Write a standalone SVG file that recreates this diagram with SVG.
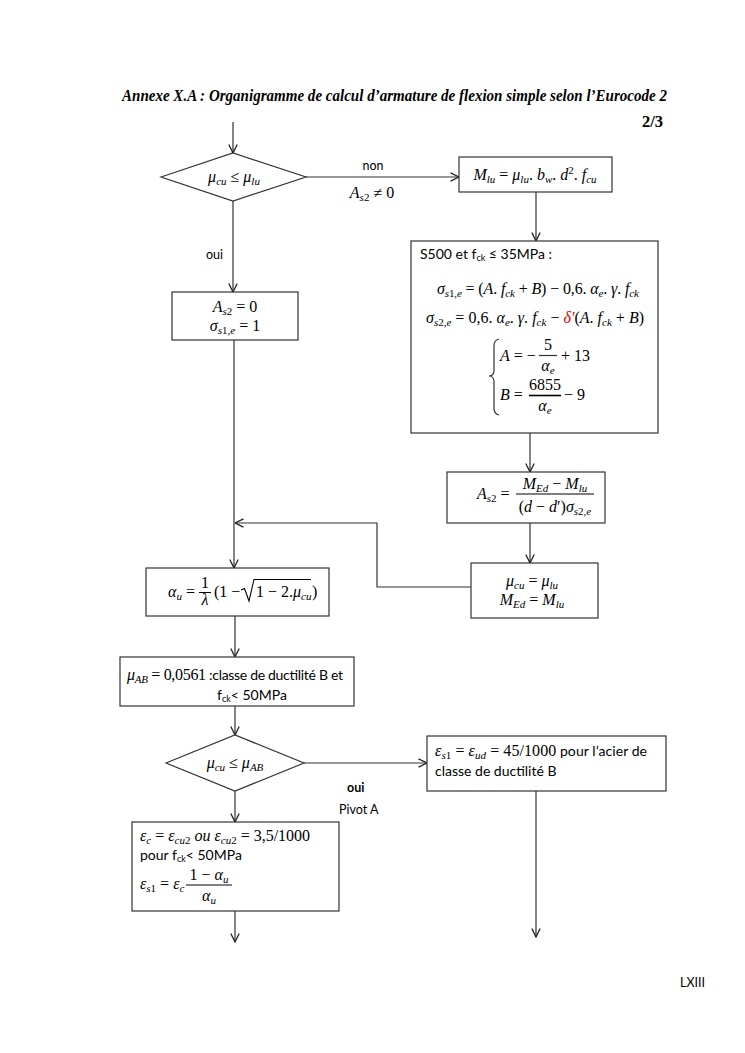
<svg xmlns="http://www.w3.org/2000/svg" width="745" height="1053" viewBox="0 0 745 1053">
<style>
.bx{fill:#fff;stroke:#333;stroke-width:1.2}
.ln{fill:none;stroke:#333;stroke-width:1.2}
.m{font-family:"Liberation Serif","DejaVu Serif",serif;font-size:16px;fill:#000}
.i{font-style:italic}
.s{font-size:11px;font-style:italic}
.n{font-size:11px}
.t{font-family:Lato,"Liberation Sans",sans-serif;font-size:12.5px;fill:#000}
.tb{font-family:Lato,"Liberation Sans",sans-serif;font-size:14px;fill:#000}
.ts{font-size:9px}
.ttl{font-family:"Liberation Serif","Times New Roman",serif;font-weight:bold;font-style:italic;font-size:16.5px}
</style>
<defs>
<marker id="ah" viewBox="0 0 10 10" refX="9.5" refY="5" markerWidth="10" markerHeight="10" markerUnits="userSpaceOnUse" orient="auto">
<path d="M1,0.8 L9.5,5 L1,9.2" fill="none" stroke="#222" stroke-width="1.3"/>
</marker>
</defs>
<rect width="745" height="1053" fill="#fff"/>
<text class="ttl" x="122" y="101" textLength="545" lengthAdjust="spacingAndGlyphs">Annexe X.A : Organigramme de calcul d’armature de flexion simple selon l’Eurocode 2</text>
<text class="ttl" x="663" y="127" text-anchor="end" style="font-style:normal">2/3</text>

<g id="connectors">
<path class="ln" d="M233,122 V153" marker-end="url(#ah)"/>
<path class="ln" d="M306,177 H459" marker-end="url(#ah)"/>
<path class="ln" d="M233,201 V292" marker-end="url(#ah)"/>
<path class="ln" d="M536,192 V241" marker-end="url(#ah)"/>
<path class="ln" d="M530,433 V472" marker-end="url(#ah)"/>
<path class="ln" d="M530,523 V563" marker-end="url(#ah)"/>
<path class="ln" d="M471,587 H377 V523 H235" marker-end="url(#ah)"/>
<path class="ln" d="M234,340 V568" marker-end="url(#ah)"/>
<path class="ln" d="M235,616 V657" marker-end="url(#ah)"/>
<path class="ln" d="M235,706 V735" marker-end="url(#ah)"/>
<path class="ln" d="M304,763 H427" marker-end="url(#ah)"/>
<path class="ln" d="M235,791 V822" marker-end="url(#ah)"/>
<path class="ln" d="M235,911 V942" marker-end="url(#ah)"/>
<path class="ln" d="M536,791 V937" marker-end="url(#ah)"/>
<text class="t" x="373" y="170" text-anchor="middle">non</text>
<text class="m" x="372" y="198" text-anchor="middle"><tspan class="i">A</tspan><tspan class="s" baseline-shift="-3">s</tspan><tspan class="n" baseline-shift="-3">2</tspan> ≠ 0</text>
<text class="t" x="206" y="259">oui</text>
<text class="t" x="347" y="792" font-weight="bold">oui</text>
<text class="t" x="339" y="814">Pivot A</text>
</g>

<g id="d1">
<polygon class="bx" points="161,177 233,153 306,177 233,201"/>
<text class="m" x="234" y="182" text-anchor="middle"><tspan class="i">μ</tspan><tspan class="s" baseline-shift="-3">cu</tspan> ≤ <tspan class="i">μ</tspan><tspan class="s" baseline-shift="-3">lu</tspan></text>
</g>

<g id="mlu">
<rect class="bx" x="459" y="157" width="153" height="35"/>
<text class="m" x="535" y="180" text-anchor="middle"><tspan class="i">M</tspan><tspan class="s" baseline-shift="-3">lu</tspan> = <tspan class="i">μ</tspan><tspan class="s" baseline-shift="-3">lu</tspan>. <tspan class="i">b</tspan><tspan class="s" baseline-shift="-3">w</tspan>. <tspan class="i">d</tspan><tspan class="n" baseline-shift="6">2</tspan>. <tspan class="i">f</tspan><tspan class="s" baseline-shift="-3">cu</tspan></text>
</g>

<g id="s500">
<rect class="bx" x="411" y="241" width="247" height="192"/>
<text class="tb" x="420" y="259">S500 et f<tspan class="ts" baseline-shift="-2">ck</tspan> ≤ 35MPa :</text>
<text class="m" x="538" y="294" text-anchor="middle" textLength="202"><tspan class="i">σ</tspan><tspan class="s" baseline-shift="-3">s</tspan><tspan class="n" baseline-shift="-3">1,</tspan><tspan class="s" baseline-shift="-3">e</tspan> = (<tspan class="i">A</tspan>. <tspan class="i">f</tspan><tspan class="s" baseline-shift="-3">ck</tspan> + <tspan class="i">B</tspan>) − 0,6. <tspan class="i">α</tspan><tspan class="s" baseline-shift="-3">e</tspan>. <tspan class="i">γ</tspan>. <tspan class="i">f</tspan><tspan class="s" baseline-shift="-3">ck</tspan></text>
<text class="m" x="535" y="323" text-anchor="middle" textLength="218"><tspan class="i">σ</tspan><tspan class="s" baseline-shift="-3">s</tspan><tspan class="n" baseline-shift="-3">2,</tspan><tspan class="s" baseline-shift="-3">e</tspan> = 0,6. <tspan class="i">α</tspan><tspan class="s" baseline-shift="-3">e</tspan>. <tspan class="i">γ</tspan>. <tspan class="i">f</tspan><tspan class="s" baseline-shift="-3">ck</tspan> − <tspan class="i" fill="#e00000">δ′</tspan>(<tspan class="i">A</tspan>. <tspan class="i">f</tspan><tspan class="s" baseline-shift="-3">ck</tspan> + <tspan class="i">B</tspan>)</text>
<path class="ln" d="M499,339 Q494,340 494,346 L494,370 Q494,376 489,376 Q494,376 494,382 L494,408 Q494,414 499,415"/>
<text class="m" x="500" y="361"><tspan class="i">A</tspan> = −</text>
<text class="m" x="548" y="350" text-anchor="middle">5</text>
<line class="ln" x1="539" y1="355.5" x2="557" y2="355.5"/>
<text class="m" x="548" y="371" text-anchor="middle"><tspan class="i">α</tspan><tspan class="s" baseline-shift="-3">e</tspan></text>
<text class="m" x="561" y="361">+ 13</text>
<text class="m" x="500" y="400"><tspan class="i">B</tspan> =</text>
<text class="m" x="545" y="390" text-anchor="middle">6855</text>
<line x1="529" y1="395.5" x2="561" y2="395.5" stroke="#000" stroke-width="1.6"/>
<text class="m" x="545" y="411" text-anchor="middle"><tspan class="i">α</tspan><tspan class="s" baseline-shift="-3">e</tspan></text>
<text class="m" x="564" y="400">− 9</text>
</g>

<g id="as2">
<rect class="bx" x="447" y="472" width="158" height="51"/>
<text class="m" x="477" y="499"><tspan class="i">A</tspan><tspan class="s" baseline-shift="-3">s</tspan><tspan class="n" baseline-shift="-3">2</tspan> =</text>
<text class="m" x="555" y="489" text-anchor="middle"><tspan class="i">M</tspan><tspan class="s" baseline-shift="-3">Ed</tspan> − <tspan class="i">M</tspan><tspan class="s" baseline-shift="-3">lu</tspan></text>
<line x1="516" y1="494" x2="594" y2="494" stroke="#000" stroke-width="1"/>
<text class="m" x="555" y="512" text-anchor="middle">(<tspan class="i">d</tspan> − <tspan class="i">d</tspan>′)<tspan class="i">σ</tspan><tspan class="s" baseline-shift="-3">s</tspan><tspan class="n" baseline-shift="-3">2,</tspan><tspan class="s" baseline-shift="-3">e</tspan></text>
</g>

<g id="as20">
<rect class="bx" x="172" y="292" width="126" height="48"/>
<text class="m" x="235" y="312" text-anchor="middle"><tspan class="i">A</tspan><tspan class="s" baseline-shift="-3">s</tspan><tspan class="n" baseline-shift="-3">2</tspan> = 0</text>
<text class="m" x="235" y="331" text-anchor="middle"><tspan class="i">σ</tspan><tspan class="s" baseline-shift="-3">s</tspan><tspan class="n" baseline-shift="-3">1,</tspan><tspan class="s" baseline-shift="-3">e</tspan> = 1</text>
</g>

<g id="mucu">
<rect class="bx" x="471" y="563" width="127" height="55"/>
<text class="m" x="532" y="586" text-anchor="middle"><tspan class="i">μ</tspan><tspan class="s" baseline-shift="-3">cu</tspan> = <tspan class="i">μ</tspan><tspan class="s" baseline-shift="-3">lu</tspan></text>
<text class="m" x="532" y="605" text-anchor="middle"><tspan class="i">M</tspan><tspan class="s" baseline-shift="-3">Ed</tspan> = <tspan class="i">M</tspan><tspan class="s" baseline-shift="-3">lu</tspan></text>
</g>

<g id="alphau">
<rect class="bx" x="146" y="568" width="183" height="48"/>
<text class="m" x="168" y="597" font-size="15px"><tspan class="i">α</tspan><tspan class="s" baseline-shift="-3">u</tspan> =</text>
<text class="m" x="205" y="588" text-anchor="middle" font-size="15px">1</text>
<line x1="199" y1="592.5" x2="211" y2="592.5" stroke="#000" stroke-width="1"/>
<text class="m" x="205" y="605" text-anchor="middle" font-size="15px" font-style="italic">λ</text>
<text class="m" x="214" y="597" font-size="15px">(1 −</text>
<path d="M241,590 L244.5,588.5 L249,601 L254,579.5 H311" fill="none" stroke="#000" stroke-width="1.1"/>
<text class="m" x="256" y="597" font-size="15px">1 − 2.<tspan class="i">μ</tspan><tspan class="s" baseline-shift="-3">cu</tspan></text>
<text class="m" x="312" y="597" font-size="15px">)</text>
</g>

<g id="muab">
<rect class="bx" x="120" y="657" width="234" height="49"/>
<text x="127" y="680" textLength="216"><tspan class="m"><tspan class="i">μ</tspan><tspan class="s" baseline-shift="-3">AB</tspan> = 0,0561</tspan><tspan class="tb" font-size="13px"> :classe de ductilité B et</tspan></text>
<text class="tb" x="217" y="700" font-size="13px">f<tspan class="ts" baseline-shift="-2">ck</tspan>&lt; 50MPa</text>
</g>

<g id="d2">
<polygon class="bx" points="166,763 235,735 304,763 235,791"/>
<text class="m" x="235" y="768" text-anchor="middle"><tspan class="i">μ</tspan><tspan class="s" baseline-shift="-3">cu</tspan> ≤ <tspan class="i">μ</tspan><tspan class="s" baseline-shift="-3">AB</tspan></text>
</g>

<g id="eps">
<rect class="bx" x="427" y="736" width="239" height="55"/>
<text x="435" y="756" textLength="212"><tspan class="m"><tspan class="i">ε</tspan><tspan class="s" baseline-shift="-3">s</tspan><tspan class="n" baseline-shift="-3">1</tspan> = <tspan class="i">ε</tspan><tspan class="s" baseline-shift="-3">ud</tspan> = 45/1000</tspan><tspan class="tb"> pour l’acier de</tspan></text>
<text class="tb" x="435" y="776">classe de ductilité B</text>
</g>

<g id="pivota">
<rect class="bx" x="132" y="822" width="207" height="89"/>
<text class="m" x="140" y="841"><tspan class="i">ε</tspan><tspan class="s" baseline-shift="-3">c</tspan> = <tspan class="i">ε</tspan><tspan class="s" baseline-shift="-3">cu</tspan><tspan class="n" baseline-shift="-3">2</tspan> <tspan class="i">ou</tspan> <tspan class="i">ε</tspan><tspan class="s" baseline-shift="-3">cu</tspan><tspan class="n" baseline-shift="-3">2</tspan> = 3,5/1000</text>
<text class="tb" x="140" y="860">pour f<tspan class="ts" baseline-shift="-2">ck</tspan>&lt; 50MPa</text>
<text class="m" x="140" y="889"><tspan class="i">ε</tspan><tspan class="s" baseline-shift="-3">s</tspan><tspan class="n" baseline-shift="-3">1</tspan> = <tspan class="i">ε</tspan><tspan class="s" baseline-shift="-3">c</tspan></text>
<text class="m" x="209" y="880" text-anchor="middle">1 − <tspan class="i">α</tspan><tspan class="s" baseline-shift="-3">u</tspan></text>
<line x1="186" y1="885" x2="232" y2="885" stroke="#000" stroke-width="1"/>
<text class="m" x="209" y="901" text-anchor="middle"><tspan class="i">α</tspan><tspan class="s" baseline-shift="-3">u</tspan></text>
</g>

<text class="t" x="680" y="987" font-size="11px">LXIII</text>
</svg>
